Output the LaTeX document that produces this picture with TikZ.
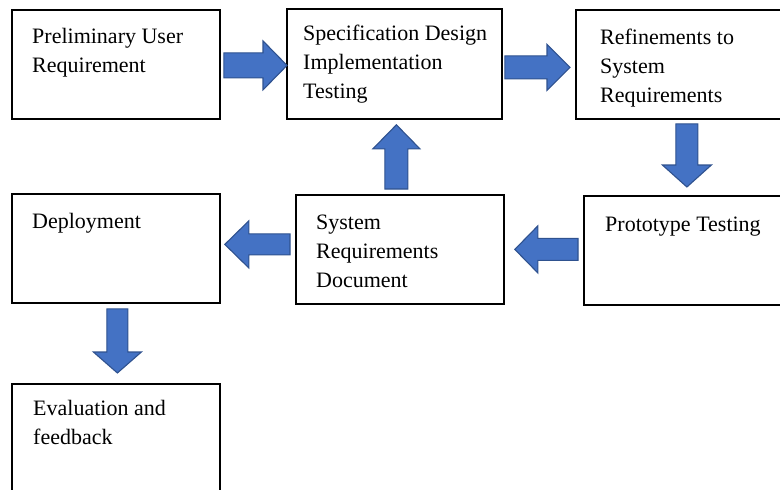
\documentclass[tikz,border=0pt]{standalone}
\usepackage{fontspec}
\setmainfont{Liberation Serif}
\usetikzlibrary{calc}

\definecolor{arrowfill}{HTML}{4472C4}
\definecolor{arrowline}{HTML}{2F528F}

% Block arrow from tail #1 to tip #2; #3 shaft half-width, #4 head half-width, #5 head length (pt)
\newcommand\blockarrow[5]{%
  \draw[blk] let \p1=#1, \p2=#2,
      \n1={veclen(\x2-\x1,\y2-\y1)},
      \p3=({(\x2-\x1)/\n1*1pt},{(\y2-\y1)/\n1*1pt}),
      \p4=({\x1+(\x3)*(\n1-#5)},{\y1+(\y3)*(\n1-#5)}) in
    ({\x1-(\y3)*#3},{\y1+(\x3)*#3}) --
    ({\x4-(\y3)*#3},{\y4+(\x3)*#3}) --
    ({\x4-(\y3)*#4},{\y4+(\x3)*#4}) --
    (\p2) --
    ({\x4+(\y3)*#4},{\y4-(\x3)*#4}) --
    ({\x4+(\y3)*#3},{\y4-(\x3)*#3}) --
    ({\x1+(\y3)*#3},{\y1-(\x3)*#3}) -- cycle;
}

\begin{document}
\begin{tikzpicture}[x=1pt,y=-1pt,
    box/.style={draw=black, line width=1.8pt, rectangle, inner sep=0pt, anchor=north west},
    txt/.style={anchor=north west, inner sep=0pt, align=left,
      font=\fontsize{22}{29}\selectfont, execute at begin node=\strut},
    blk/.style={fill=arrowfill, draw=arrowline, line width=1.1pt, line join=miter}]
  \useasboundingbox (0,0) rectangle (780,490);
  \clip (0,0) rectangle (780,490);

  % boxes
  \node[box, minimum width=208pt, minimum height=109pt] (b1) at (11,9) {};
  \node[box, minimum width=215pt, minimum height=110pt] (b2) at (286,8) {};
  \node[box, minimum width=215pt, minimum height=109pt] (b3) at (575,9) {};
  \node[box, minimum width=208pt, minimum height=109pt] (b4) at (11,193) {};
  \node[box, minimum width=208pt, minimum height=109pt] (b5) at (295,194) {};
  \node[box, minimum width=207pt, minimum height=109pt] (b6) at (583,195) {};
  \node[box, minimum width=208pt, minimum height=117pt] (b7) at (11,383) {};

  % labels
  \node[txt] (t1) at ($(b1.north west)+(21,19)$) {Preliminary User\\Requirement};
  \node[txt] (t2) at ($(b2.north west)+(17,17)$) {Specification Design\\Implementation\\Testing};
  \node[txt] (t3) at ($(b3.north west)+(25,20)$) {Refinements to\\System\\Requirements};
  \node[txt] (t4) at ($(b4.north west)+(21,15)$) {Deployment};
  \node[txt] (t5) at ($(b5.north west)+(21,21)$) {System\\Requirements\\Document};
  \node[txt] (t6) at ($(b6.north west)+(22,16)$) {Prototype Testing};
  \node[txt] (t7) at ($(b7.north west)+(22,17)$) {Evaluation and\\feedback};

  % arrow end points
  \coordinate (a1s) at ($(b1.east)+(3,1)$);
  \coordinate (a1e) at ($(a1s -| b2.west)+(1,0)$);
  \coordinate (a2s) at ($(b2.east)+(2,3.5)$);
  \coordinate (a2e) at ($(a2s -| b3.west)+(-5,0)$);
  \coordinate (a3s) at ($(b3.south)+(3.5,4)$);
  \coordinate (a3e) at ($(a3s |- b6.north)+(0,-8)$);
  \coordinate (a4s) at ($(b6.west)+(-5,-1)$);
  \coordinate (a4e) at ($(a4s -| b5.east)+(10,0)$);
  \coordinate (a5s) at ($(b5.north)+(-3.5,-5)$);
  \coordinate (a5e) at ($(a5s |- b2.south)+(0,5)$);
  \coordinate (a6s) at ($(b5.west)+(-5,-5)$);
  \coordinate (a6e) at ($(a6s -| b4.east)+(4,0)$);
  \coordinate (a7s) at ($(b4.south)+(1.5,5)$);
  \coordinate (a7e) at ($(a7s |- b7.north)+(0,-10)$);

  % block arrows
  \blockarrow{(a1s)}{(a1e)}{12.5}{24.5}{24}
  \blockarrow{(a2s)}{(a2e)}{11.5}{23}{23}
  \blockarrow{(a3s)}{(a3e)}{11}{24.5}{22}
  \blockarrow{(a4s)}{(a4e)}{11}{23.5}{23}
  \blockarrow{(a5s)}{(a5e)}{11.5}{23.5}{24}
  \blockarrow{(a6s)}{(a6e)}{10.5}{23.5}{24}
  \blockarrow{(a7s)}{(a7e)}{10.5}{24}{21}
\end{tikzpicture}
\end{document}
